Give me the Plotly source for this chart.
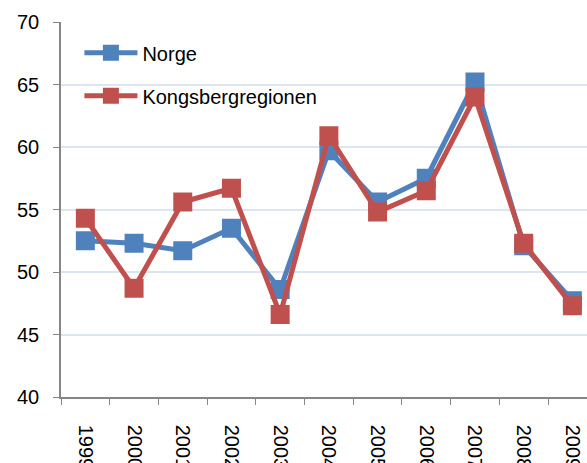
import plotly.graph_objects as go

years = ["1999", "2000", "2001", "2002", "2003", "2004", "2005", "2006", "2007", "2008", "2009"]
norge = [52.5, 52.3, 51.7, 53.5, 48.6, 59.7, 55.6, 57.5, 65.2, 52.1, 47.7]
kongsberg = [54.3, 48.7, 55.6, 56.7, 46.6, 60.9, 54.8, 56.5, 64.0, 52.3, 47.3]
y_ticks = [40, 45, 50, 55, 60, 65, 70]

FONT = "Liberation Sans, Arial, sans-serif"

fig = go.Figure()
fig.add_trace(go.Scatter(
    x=years, y=norge, name="Norge", mode="lines+markers",
    line=dict(color="#4F81BD", width=5),
    marker=dict(symbol="square", size=19, color="#4F81BD"),
    legendgroup="a",
))
fig.add_trace(go.Scatter(
    x=years, y=kongsberg, name="Kongsbergregionen", mode="lines+markers",
    line=dict(color="#C0504D", width=5),
    marker=dict(symbol="square", size=19, color="#C0504D"),
    legendgroup="b",
))

fig.update_layout(
    width=587, height=463,
    margin=dict(l=61, r=0, t=22, b=66),
    paper_bgcolor="white", plot_bgcolor="white",
    font=dict(family=FONT, size=20, color="black"),
    showlegend=True,
    legend=dict(x=0.035, y=0.97, xanchor="left", yanchor="top",
                bgcolor="rgba(0,0,0,0)", font=dict(size=20),
                tracegroupgap=14, itemwidth=53),
)
fig.update_xaxes(
    type="category", range=[-0.5, 10.3], automargin=False,
    showline=True, linecolor="#868686", linewidth=1.5,
    ticks="outside", tickson="boundaries", ticklen=6, tickcolor="#868686",
    tickangle=90, showgrid=False, ticklabelstandoff=22,
)
fig.update_yaxes(
    range=[40, 70], tickvals=y_ticks, automargin=False,
    showline=True, linecolor="#868686", linewidth=1.5,
    ticks="outside", ticklen=6, tickcolor="#868686",
    showgrid=True, gridcolor="#DCE6F2", gridwidth=1.5,
    zeroline=False, ticklabelstandoff=10,
)

fig.write_html(
    "out.html",
    config={"displayModeBar": False},
    post_script="document.body.style.margin='0';document.body.style.overflow='hidden';",
)
